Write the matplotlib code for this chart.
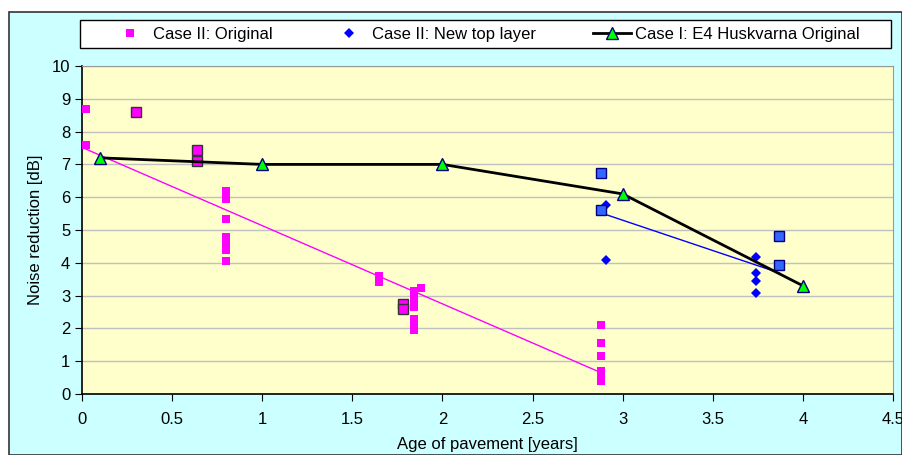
import matplotlib
matplotlib.use("Agg")
import matplotlib.pyplot as plt
from matplotlib.patches import Rectangle

plt.rcParams['font.family'] = ['Liberation Sans', 'DejaVu Sans']

# Case II: Original (small magenta squares)
orig_x = [0.02, 0.02, 0.8, 0.8, 0.8, 0.8, 0.8, 0.8, 0.8, 0.8, 1.65, 1.65,
          1.84, 1.84, 1.84, 1.84, 1.84, 1.84, 1.84, 1.88,
          2.88, 2.88, 2.88, 2.88, 2.88, 2.88]
orig_y = [8.7, 7.6, 6.2, 5.95, 5.35, 4.8, 4.65, 4.5, 4.4, 4.05, 3.6, 3.4,
          3.15, 3.0, 2.8, 2.65, 2.3, 2.1, 1.95, 3.22,
          2.1, 1.55, 1.15, 0.7, 0.55, 0.4]
# larger magenta squares with outline
orig2_x = [0.3, 0.64, 0.64, 1.78, 1.78]
orig2_y = [8.6, 7.43, 7.1, 2.75, 2.6]

# Case II: New top layer (blue diamonds)
new_x = [2.91, 2.91, 3.74, 3.74, 3.74, 3.74]
new_y = [5.76, 4.1, 4.18, 3.69, 3.45, 3.08]
# blue squares with outline
new2_x = [2.88, 2.88, 3.87, 3.87]
new2_y = [6.73, 5.61, 4.82, 3.93]

# Case I: E4 Huskvarna Original
hus_x = [0.1, 1, 2, 3, 4]
hus_y = [7.2, 7.0, 7.0, 6.1, 3.3]

# trend lines
trend_orig_x = [0.02, 2.88]
trend_orig_y = [7.47, 0.65]
trend_new_x = [2.88, 3.87]
trend_new_y = [5.52, 3.69]

W, H = 903, 455
fig = plt.figure(figsize=(W / 100, H / 100), dpi=100)
fig.patch.set_facecolor('white')
# chart area background + legend box
fig.patches.append(Rectangle((9 / W, 0), (W - 10) / W, (H - 12) / H,
                             transform=fig.transFigure, facecolor='#CCFFFF',
                             edgecolor='#333333', linewidth=1.2, zorder=-5))
fig.patches.append(Rectangle((80 / W, 1 - 48 / H), (891 - 80) / W, 28 / H,
                             transform=fig.transFigure, facecolor='white',
                             edgecolor='black', linewidth=1, zorder=-4))

ax = fig.add_axes([82 / W, (H - 394) / H, (893 - 82) / W, (394 - 66) / H])
ax.set_facecolor('#FFFFCC')

ax.plot(trend_orig_x, trend_orig_y, color='#FF00FF', lw=1, zorder=2)
ax.plot(trend_new_x, trend_new_y, color='#0000FF', lw=1, zorder=2)

l1, = ax.plot(orig_x, orig_y, 's', color='#FF00FF', ms=5.5, mew=0,
              label='Case II: Original', zorder=3)
ax.plot(orig2_x, orig2_y, 's', mfc='#FF00FF', mec='#333333', ms=7, mew=1,
        zorder=3)
l2, = ax.plot(new_x, new_y, 'D', color='#0000FF', ms=5.5, mew=0,
              label='Case II: New top layer', zorder=3)
ax.plot(new2_x, new2_y, 's', mfc='#3366FF', mec='#000080', ms=7, mew=1,
        zorder=3)
l3, = ax.plot(hus_x, hus_y, '-^', color='black', lw=2, mfc='#00FF00',
              mec='#000080', mew=1, ms=9, label='Case I: E4 Huskvarna Original',
              zorder=4)

ax.set_xlim(0, 4.5)
ax.set_ylim(0, 10)
ax.set_xticks([0, 0.5, 1, 1.5, 2, 2.5, 3, 3.5, 4, 4.5])
ax.set_xticklabels(['0', '0.5', '1', '1.5', '2', '2.5', '3', '3.5', '4', '4.5'])
ax.set_yticks(range(0, 11))
ax.yaxis.grid(True, color='#C0C0C0', lw=1)
ax.set_axisbelow(True)
ax.tick_params(labelsize=12, length=5, color='black', direction='out')
ax.tick_params(axis='x', pad=8)
for s in ['top', 'right']:
    ax.spines[s].set_color('#999999')
for s in ['bottom', 'left']:
    ax.spines[s].set_color('black')
    ax.spines[s].set_linewidth(1.2)

ax.set_xlabel('Age of pavement [years]', fontsize=12, labelpad=7)
ax.set_ylabel('Noise reduction [dB]', fontsize=12, labelpad=6)

leg = fig.legend(handles=[l1, l2, l3], loc='center', ncol=3,
                 bbox_to_anchor=(80 / W, 1 - 48 / H, (891 - 80) / W, 28 / H),
                 fontsize=12, frameon=False, borderaxespad=0,
                 handlelength=2.3, handletextpad=0.25, columnspacing=3.4,
                 borderpad=0)

fig.savefig('out.png', dpi=100)
